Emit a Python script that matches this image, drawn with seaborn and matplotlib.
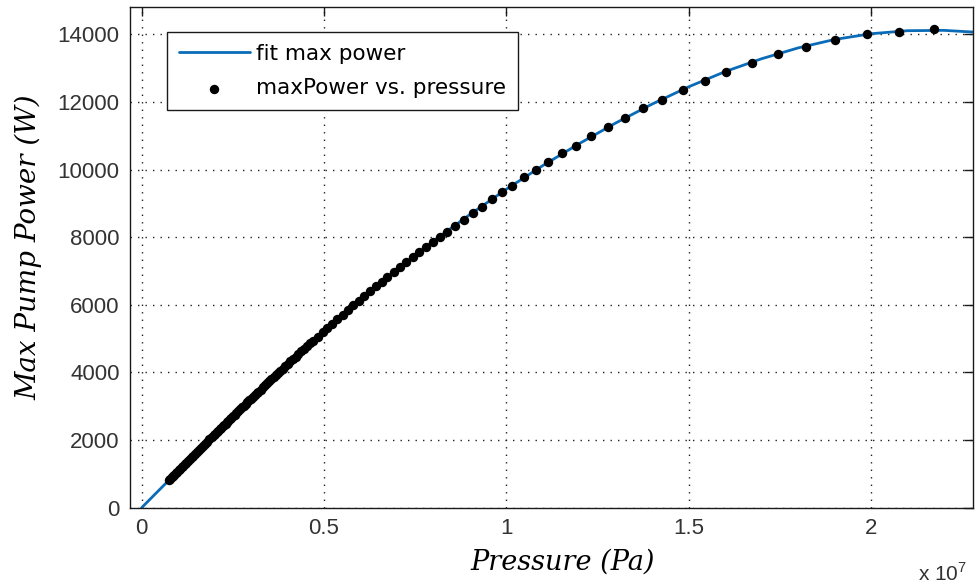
import numpy as np
import pandas as pd
import matplotlib
matplotlib.use("Agg")
import matplotlib.pyplot as plt
import seaborn as sns

# ---------------- data (pressure in units of 1e7 Pa, power in W) ----------------
fit_pressure_e7 = [0.0, 0.1, 0.2, 0.3, 0.4, 0.5, 0.6, 0.7, 0.8, 0.9, 1.0, 1.1,
                   1.2, 1.3, 1.4, 1.5, 1.6, 1.7, 1.8, 1.9, 2.0, 2.1, 2.2, 2.28]
fit_power = [0, 1090, 2170, 3230, 4250, 5230, 6170, 7060, 7890, 8670, 9420, 10120,
             10770, 11380, 11940, 12450, 12900, 13280, 13600, 13850, 14020, 14110,
             14120, 14070]

data_pressure_e7 = [
    0.074, 0.078, 0.082, 0.086, 0.090, 0.094, 0.098, 0.102, 0.106, 0.110,
    0.114, 0.118, 0.122, 0.127, 0.132, 0.137, 0.142, 0.147, 0.152, 0.157,
    0.162, 0.168, 0.174, 0.180, 0.186, 0.192, 0.198, 0.202, 0.206, 0.210,
    0.214, 0.218, 0.222, 0.226, 0.230, 0.234, 0.238, 0.242, 0.246, 0.250,
    0.255, 0.260, 0.265, 0.270, 0.275, 0.280, 0.285, 0.290, 0.295, 0.300,
    0.305, 0.310, 0.315, 0.320, 0.326, 0.332, 0.338, 0.344, 0.350, 0.356,
    0.362, 0.368, 0.374, 0.380, 0.387, 0.394, 0.401, 0.408, 0.415, 0.422,
    0.430, 0.438, 0.446, 0.454, 0.462, 0.470, 0.483, 0.496, 0.509, 0.523,
    0.537, 0.551, 0.565, 0.580, 0.595, 0.610, 0.626, 0.642, 0.658, 0.674,
    0.691, 0.708, 0.725, 0.743, 0.761, 0.779, 0.798, 0.818, 0.838, 0.860,
    0.884, 0.908, 0.932, 0.960, 0.988, 1.015, 1.048, 1.081, 1.115, 1.153,
    1.191, 1.233, 1.279, 1.325, 1.375, 1.427, 1.484, 1.544, 1.602, 1.673,
    1.745, 1.821, 1.901, 1.988, 2.077, 2.172]
data_power = [
    807, 850, 894, 937, 981, 1025, 1068, 1112, 1155, 1198,
    1241, 1284, 1328, 1382, 1436, 1490, 1544, 1598, 1652, 1706,
    1760, 1825, 1889, 1954, 2019, 2084, 2148, 2191, 2234, 2276,
    2318, 2361, 2403, 2446, 2488, 2530, 2573, 2615, 2658, 2700,
    2753, 2806, 2859, 2912, 2965, 3018, 3071, 3124, 3177, 3230,
    3281, 3332, 3383, 3434, 3495, 3556, 3618, 3679, 3740, 3801,
    3862, 3924, 3985, 4046, 4117, 4189, 4260, 4328, 4397, 4466,
    4544, 4622, 4701, 4779, 4858, 4936, 5063, 5191, 5315, 5446,
    5578, 5709, 5841, 5982, 6123, 6259, 6401, 6544, 6686, 6829,
    6980, 7126, 7268, 7417, 7566, 7716, 7873, 8020, 8170, 8340,
    8520, 8720, 8900, 9120, 9330, 9530, 9770, 9990, 10230, 10490,
    10710, 10990, 11270, 11540, 11810, 12070, 12350, 12620, 12880, 13150,
    13410, 13640, 13840, 14010, 14085, 14170]

x_ticks_e7 = [0, 0.5, 1, 1.5, 2]
x_tick_labels = ["0", "0.5", "1", "1.5", "2"]
y_ticks = [0, 2000, 4000, 6000, 8000, 10000, 12000, 14000]
y_tick_labels = ["0", "2000", "4000", "6000", "8000", "10000", "12000", "14000"]

fit_label = "fit max power"
data_label = "maxPower vs. pressure"
x_label = "Pressure (Pa)"
y_label = "Max Pump Power (W)"

# ---------------- style ----------------
sns.set_style("white")
plt.rcParams["font.family"] = ["Liberation Sans", "DejaVu Sans"]

fig = plt.figure(figsize=(9.75, 5.86), dpi=100)
ax = fig.add_axes([130 / 975, 1 - 507.7 / 586, 842.7 / 975, 501 / 586])

fit_df = pd.DataFrame({"pressure": np.array(fit_pressure_e7) * 1e7, "power": fit_power})
data_df = pd.DataFrame({"pressure": np.array(data_pressure_e7) * 1e7, "power": data_power})

sns.lineplot(data=fit_df, x="pressure", y="power", ax=ax, color="#0a6cb8",
             linewidth=2.0, label=fit_label, sort=False, zorder=2)
sns.scatterplot(data=data_df, x="pressure", y="power", ax=ax, color="black",
                s=46, linewidth=0, label=data_label, zorder=3)

ax.set_xlim(-0.032e7, 2.279e7)
ax.set_ylim(0, 14820)
ax.set_xticks(np.array(x_ticks_e7) * 1e7, x_tick_labels)
ax.set_yticks(y_ticks, y_tick_labels)

ax.grid(True, linestyle=(0, (1, 4.4)), color="#222222", linewidth=1.0)
for sp in ax.spines.values():
    sp.set_color("#1a1a1a")
    sp.set_linewidth(1.0)
    sp.set_visible(True)

ax.tick_params(direction="in", length=6.5, width=1, top=True, right=True,
               labelsize=16, pad=7.5, labelcolor="#333333", color="#1a1a1a")

ax.set_xlabel(x_label, fontsize=19.5, fontstyle="italic", family="DejaVu Serif",
              color="black")
ax.set_ylabel(y_label, fontsize=20, fontstyle="italic", family="DejaVu Serif",
              color="black")
ax.xaxis.set_label_coords(0.513, -0.0824)
ax.yaxis.set_label_coords(-0.1044, 0.519)

fig.text(918 / 975, 0.002, r"x 10$^{\mathregular{7}}$", fontsize=15,
         color="#333333", ha="left", va="bottom")

handles, labels = ax.get_legend_handles_labels()
leg = ax.legend(handles, labels, loc="upper left", bbox_to_anchor=(0.0439, 0.9495),
                borderaxespad=0, fancybox=False, framealpha=1, edgecolor="#1a1a1a",
                prop={"family": "DejaVu Sans", "size": 15.5}, handlelength=3.3,
                handletextpad=0.3, borderpad=0.55, labelspacing=0.68)
leg.get_frame().set_linewidth(1.0)
for t in leg.get_texts():
    t.set_color("black")

fig.savefig("out.png", dpi=100)
